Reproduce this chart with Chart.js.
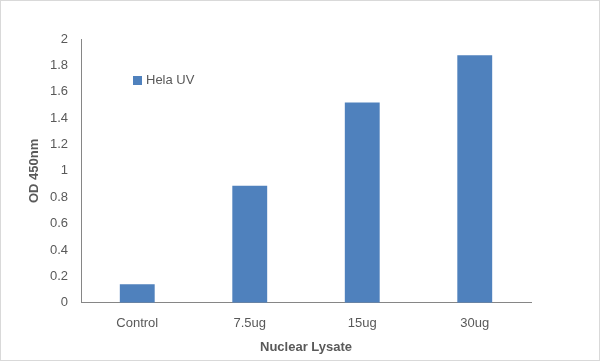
<!DOCTYPE html>
<html>
<head>
<meta charset="utf-8">
<script src="https://cdn.jsdelivr.net/npm/chart.js@4"></script>
<style>
  html,body{margin:0;padding:0;background:#fff;}
  #wrap{width:600px;height:361px;box-sizing:border-box;border:1px solid #d9d9d9;}
  canvas{display:block;}
</style>
</head>
<body>
<div id="wrap"><canvas id="chart" width="598" height="359"></canvas></div>
<script>
// ===== Data =====
const categories = ["Control", "7.5ug", "15ug", "30ug"];
const helaUV = [0.14, 0.887, 1.519, 1.876];
const seriesName = "Hela UV";
const yTicks = [0, 0.2, 0.4, 0.6, 0.8, 1, 1.2, 1.4, 1.6, 1.8, 2];

const BAR = "#4F81BD";
const TXT = "#595959";
const FONT = "'Liberation Sans', Arial, sans-serif";

// legend drawn inside the plot, like the Excel original
const insideLegend = {
    id: "insideLegend",
    afterDraw(chart){
        const c = chart.ctx;
        const ds = chart.data.datasets[0];
        c.save();
        c.fillStyle = ds.backgroundColor;
        c.fillRect(132, 75, 9, 9);
        c.fillStyle = TXT;
        c.font = "13px " + FONT;
        c.textBaseline = "middle";
        c.fillText(ds.label, 145, 79.5);
        c.restore();
    }
};

new Chart(document.getElementById("chart"), {
    type: "bar",
    data: {
        labels: categories,
        datasets: [{
            label: seriesName,
            data: helaUV,
            backgroundColor: BAR,
            borderWidth: 0,
            barPercentage: 0.31,
            categoryPercentage: 1
        }]
    },
    options: {
        responsive: false,
        animation: false,
        layout: { padding: { top: 38, right: 68, left: 0, bottom: 0 } },
        plugins: { legend: { display: false }, tooltip: { enabled: false } },
        scales: {
            x: {
                grid: { display: false },
                border: { display: true, color: "#868686", width: 1 },
                ticks: { color: TXT, font: { size: 13, family: FONT }, padding: 5 },
                title: { display: true, text: "Nuclear Lysate", color: TXT,
                         font: { size: 13, weight: "bold", family: FONT },
                         padding: { top: 0, bottom: 5 } },
                afterFit(s){ s.height = 57.3; }
            },
            y: {
                min: 0, max: 2,
                grid: { display: false },
                border: { display: true, color: "#868686", width: 1 },
                afterBuildTicks(s){ s.ticks = yTicks.map(v => ({ value: v })); },
                ticks: { color: TXT, font: { size: 13, family: FONT }, padding: 5,
                         callback: v => String(Math.round(v * 10) / 10) },
                title: { display: true, text: "OD 450nm", color: TXT,
                         font: { size: 13, weight: "bold", family: FONT },
                         padding: { top: 26, bottom: 0 } },
                afterFit(s){ s.width = 80; }
            }
        }
    },
    plugins: [insideLegend]
});
</script>
</body>
</html>
